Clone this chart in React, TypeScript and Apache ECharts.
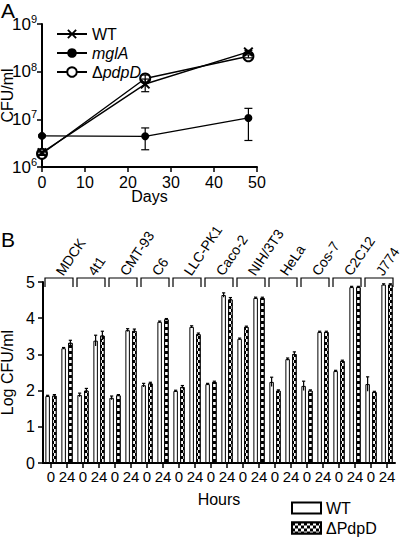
import React, { useEffect, useRef } from "react";
import * as echarts from "echarts";

// ---- Panel A data ----
const days = [0, 24, 48];
const wtCFU = [2.0e6, 5.5e7, 2.6e8];
const wtLo = [1.85e6, 3.8e7, 2.4e8];
const wtHi = [2.15e6, 7.0e7, 2.8e8];
const mglACFU = [4.5e6, 4.4e6, 1.07e7];
const mglALo = [4.3e6, 2.3e6, 3.6e6];
const mglAHi = [4.7e6, 6.6e6, 1.7e7];
const pdpDCFU = [1.9e6, 7.2e7, 2.1e8];
const pdpDLo = [1.75e6, 6.0e7, 1.95e8];
const pdpDHi = [2.05e6, 8.5e7, 2.25e8];
const xTicksA = [0, 10, 20, 30, 40, 50];

// ---- Panel B data ----
const cellLines = ["MDCK", "4t1", "CMT-93", "C6", "LLC-PK1", "Caco-2", "NIH/3T3", "HeLa", "Cos-7", "C2C12", "J774"];
const hours = ["0", "24"];
const wt0 = [1.85, 1.88, 1.8, 2.15, 1.99, 2.18, 3.43, 2.24, 2.13, 2.54, 2.18];
const pd0 = [1.86, 2.0, 1.87, 2.2, 2.1, 2.24, 3.76, 2.0, 2.0, 2.82, 1.96];
const wt24 = [3.17, 3.38, 3.67, 3.9, 3.76, 4.64, 4.56, 2.87, 3.62, 4.86, 4.93];
const pd24 = [3.32, 3.52, 3.65, 3.97, 3.56, 4.52, 4.56, 3.01, 3.62, 4.86, 4.93];
const wt0Err = [0.02, 0.05, 0.05, 0.05, 0.02, 0.02, 0.02, 0.13, 0.13, 0.02, 0.2];
const pd0Err = [0.03, 0.06, 0.02, 0.03, 0.04, 0.02, 0.02, 0.02, 0.02, 0.02, 0.02];
const wt24Err = [0.02, 0.15, 0.04, 0.02, 0.03, 0.06, 0.02, 0.03, 0.02, 0.02, 0.02];
const pd24Err = [0.07, 0.12, 0.05, 0.02, 0.03, 0.05, 0.02, 0.06, 0.02, 0.02, 0.02];
const yTicksB = [0, 5];

const FONT = "Liberation Sans, Arial, Helvetica, sans-serif";
const BAR_W = 4.5;
const BAR_GAP = "50%";
const BAR_OFF = (BAR_W + BAR_W * 0.5) / 2;

const xMark = "path://M0,1.4 L1.4,0 L5,3.6 L8.6,0 L10,1.4 L6.4,5 L10,8.6 L8.6,10 L5,6.4 L1.4,10 L0,8.6 L3.6,5 Z";

export default function App() {
  const ref = useRef<HTMLDivElement>(null);
  useEffect(() => {
    if (!ref.current) return;
    const chart = echarts.init(ref.current, null, { renderer: "svg" });

    const cats: string[] = [];
    const wtBars: number[] = [];
    const pdBars: number[] = [];
    const errRows: number[][] = [];
    cellLines.forEach((c, i) => {
      hours.forEach((h, j) => {
        const idx = cats.length;
        cats.push(c + "|" + h);
        const w = j === 0 ? wt0[i] : wt24[i];
        const p = j === 0 ? pd0[i] : pd24[i];
        const we = j === 0 ? wt0Err[i] : wt24Err[i];
        const pe = j === 0 ? pd0Err[i] : pd24Err[i];
        wtBars.push(w);
        pdBars.push(p);
        errRows.push([idx, w - we, w + we, -1]);
        errRows.push([idx, p - pe, p + pe, 1]);
      });
    });

    const errA = (lo: number[], hi: number[]) => days.map((d, i) => [d, lo[i], hi[i]]);

    const errRenderA = (params: any, api: any) => {
      const top = api.coord([api.value(0), api.value(2)]);
      const bot = api.coord([api.value(0), api.value(1)]);
      const cw = 4;
      return {
        type: "group",
        children: [
          { type: "line", shape: { x1: top[0], y1: top[1], x2: bot[0], y2: bot[1] }, style: { stroke: "#000", lineWidth: 1.2 } },
          { type: "line", shape: { x1: top[0] - cw, y1: top[1], x2: top[0] + cw, y2: top[1] }, style: { stroke: "#000", lineWidth: 1.2 } },
          { type: "line", shape: { x1: bot[0] - cw, y1: bot[1], x2: bot[0] + cw, y2: bot[1] }, style: { stroke: "#000", lineWidth: 1.2 } },
        ],
      };
    };

    const errRenderB = (params: any, api: any) => {
      const top = api.coord([api.value(0), api.value(2)]);
      const bot = api.coord([api.value(0), api.value(1)]);
      const x = top[0] + api.value(3) * BAR_OFF;
      const cw = 1.6;
      return {
        type: "group",
        children: [
          { type: "line", shape: { x1: x, y1: top[1], x2: x, y2: bot[1] }, style: { stroke: "#000", lineWidth: 1.2 } },
          { type: "line", shape: { x1: x - cw, y1: top[1], x2: x + cw, y2: top[1] }, style: { stroke: "#000", lineWidth: 1.2 } },
        ],
      };
    };

    const bracketRender = (params: any, api: any) => {
      const i = api.value(0);
      const p0 = api.coord([2 * i, 5]);
      const p1 = api.coord([2 * i + 1, 5]);
      const w = api.size([1, 0])[0];
      const left = p0[0] - w / 2 + 2;
      const right = p1[0] + w / 2 - 2;
      const y = p0[1] - 4;
      return {
        type: "polyline",
        shape: { points: [[left, y + 9], [left, y], [right, y], [right, y + 9]] },
        style: { stroke: "#000", lineWidth: 1.2, fill: "none" },
      };
    };

    const axisLine = { show: true, lineStyle: { color: "#000", width: 2 } };
    const axisTick = { show: true, length: 5, lineStyle: { color: "#000", width: 1.5 } };

    const pdDecal = {
      symbol: "rect",
      symbolSize: 1,
      color: "#fff",
      dashArrayX: [[3, 3], [0, 3, 3, 0]],
      dashArrayY: [3, 0],
      rotation: 0,
    };

    const boxLegend = (name: string, top: number) => ({
      data: [name],
      orient: "horizontal",
      left: 291,
      top,
      padding: 0,
      icon: "rect",
      itemWidth: 29,
      itemHeight: 11,
      textStyle: { fontSize: 16, fontFamily: FONT, color: "#000" },
      formatter: (n: string) => n.replace(" bars", ""),
    });

    const nameStyle = { fontSize: 16, fontFamily: FONT, color: "#000" };

    chart.setOption({
      animation: false,
      textStyle: { fontFamily: FONT, color: "#000" },
      graphic: [
        { type: "text", left: 1, top: 0, style: { text: "A", fontSize: 21, fontFamily: FONT, fill: "#000" } },
        { type: "text", left: 1, top: 229, style: { text: "B", fontSize: 21, fontFamily: FONT, fill: "#000" } },
      ],
      legend: [
        {
          data: ["WT", "mglA", "ΔpdpD"],
          orient: "vertical",
          left: 56,
          top: 26,
          padding: 0,
          itemWidth: 30,
          itemHeight: 12,
          itemGap: 3,
          textStyle: {
            fontSize: 16,
            fontFamily: FONT,
            color: "#000",
            rich: {
              n: { fontSize: 16, fontFamily: FONT, color: "#000" },
              i: { fontSize: 16, fontFamily: FONT, fontStyle: "italic", color: "#000" },
            },
          },
          formatter: (name: string) =>
            name === "WT" ? "{n|WT}" : name === "mglA" ? "{i|mglA}" : "{n|Δ}{i|pdpD}",
        },
        boxLegend("WT bars", 500),
        boxLegend("ΔPdpD bars", 520),
      ],
      grid: [
        { left: 42, right: 143, top: 24, bottom: 372, containLabel: false, outerBoundsMode: "none" },
        { left: 43, right: 5, top: 282, bottom: 76, containLabel: false, outerBoundsMode: "none" },
      ],
      xAxis: [
        {
          gridIndex: 0,
          type: "value",
          min: xTicksA[0],
          max: xTicksA[xTicksA.length - 1],
          interval: 10,
          axisLine,
          axisTick,
          splitLine: { show: false },
          axisLabel: { fontSize: 16, fontFamily: FONT, color: "#000", margin: 7 },
          name: "Days",
          nameLocation: "middle",
          nameGap: 21,
          nameMoveOverlap: false,
          nameTextStyle: nameStyle,
        },
        {
          gridIndex: 1,
          type: "category",
          data: cats,
          axisLine,
          axisTick: { ...axisTick, alignWithLabel: true },
          splitLine: { show: false },
          axisLabel: {
            fontSize: 15,
            fontFamily: FONT,
            color: "#000",
            interval: 0,
            margin: 6,
            formatter: (v: string) => v.split("|")[1],
          },
          name: "Hours",
          nameLocation: "middle",
          nameGap: 28,
          nameMoveOverlap: false,
          nameTextStyle: nameStyle,
        },
        {
          gridIndex: 1,
          type: "category",
          position: "top",
          data: cellLines,
          axisLine: { show: false },
          axisTick: { show: false },
          splitLine: { show: false },
          axisLabel: {
            fontSize: 14,
            fontFamily: FONT,
            color: "#000",
            interval: 0,
            rotate: -56,
            margin: 8,
          },
        },
      ],
      yAxis: [
        {
          gridIndex: 0,
          type: "log",
          logBase: 10,
          min: 1e6,
          max: 1e9,
          axisLine,
          axisTick,
          minorTick: { show: false },
          splitLine: { show: false },
          axisLabel: {
            margin: 5,
            formatter: (v: number) => `{b|10}{s|${Math.round(Math.log10(v))}}`,
            rich: {
              b: { fontSize: 17, fontFamily: FONT, color: "#000" },
              s: { fontSize: 11, fontFamily: FONT, color: "#000", verticalAlign: "top", padding: [0, 0, 10, 0] },
            },
          },
          name: "CFU/ml",
          nameLocation: "middle",
          nameGap: 27,
          nameMoveOverlap: false,
          nameTextStyle: nameStyle,
        },
        {
          gridIndex: 1,
          type: "value",
          min: yTicksB[0],
          max: yTicksB[1],
          interval: 1,
          axisLine,
          axisTick,
          splitLine: { show: false },
          axisLabel: { fontSize: 16, fontFamily: FONT, color: "#000", margin: 8 },
          name: "Log CFU/ml",
          nameLocation: "middle",
          nameGap: 28,
          nameMoveOverlap: false,
          nameTextStyle: nameStyle,
        },
      ],
      series: [
        {
          name: "WT",
          type: "line",
          xAxisIndex: 0,
          yAxisIndex: 0,
          data: days.map((d, i) => [d, wtCFU[i]]),
          symbol: xMark,
          symbolSize: 10,
          lineStyle: { color: "#000", width: 1.4 },
          itemStyle: { color: "#000" },
          z: 4,
        },
        {
          name: "mglA",
          type: "line",
          xAxisIndex: 0,
          yAxisIndex: 0,
          data: days.map((d, i) => [d, mglACFU[i]]),
          symbol: "circle",
          symbolSize: 8,
          lineStyle: { color: "#000", width: 1.4 },
          itemStyle: { color: "#000" },
          z: 4,
        },
        {
          name: "ΔpdpD",
          type: "line",
          xAxisIndex: 0,
          yAxisIndex: 0,
          data: days.map((d, i) => [d, pdpDCFU[i]]),
          symbol: "circle",
          symbolSize: 10,
          lineStyle: { color: "#000", width: 1.4 },
          itemStyle: { color: "#fff", borderColor: "#000", borderWidth: 2 },
          z: 3,
        },
        { type: "custom", xAxisIndex: 0, yAxisIndex: 0, data: errA(wtLo, wtHi), renderItem: errRenderA, z: 5, silent: true },
        { type: "custom", xAxisIndex: 0, yAxisIndex: 0, data: errA(mglALo, mglAHi), renderItem: errRenderA, z: 5, silent: true },
        { type: "custom", xAxisIndex: 0, yAxisIndex: 0, data: errA(pdpDLo, pdpDHi), renderItem: errRenderA, z: 5, silent: true },
        {
          name: "WT bars",
          type: "bar",
          xAxisIndex: 1,
          yAxisIndex: 1,
          data: wtBars,
          barWidth: BAR_W,
          barGap: BAR_GAP,
          itemStyle: { color: "#fff", borderColor: "#000", borderWidth: 1 },
        },
        {
          name: "ΔPdpD bars",
          type: "bar",
          xAxisIndex: 1,
          yAxisIndex: 1,
          data: pdBars,
          barWidth: BAR_W,
          barGap: BAR_GAP,
          itemStyle: { color: "#000", borderColor: "#000", borderWidth: 1, decal: pdDecal },
        },
        {
          type: "custom",
          xAxisIndex: 1,
          yAxisIndex: 1,
          data: errRows,
          renderItem: errRenderB,
          z: 5,
          silent: true,
        },
        {
          type: "custom",
          xAxisIndex: 1,
          yAxisIndex: 1,
          data: cellLines.map((c, i) => [i]),
          renderItem: bracketRender,
          clip: false,
          z: 5,
          silent: true,
        },
      ],
    });

    return () => chart.dispose();
  }, []);
  return <div ref={ref} style={{ position: "fixed", left: 0, top: 0, width: 400, height: 539, background: "#fff" }} />;
}
